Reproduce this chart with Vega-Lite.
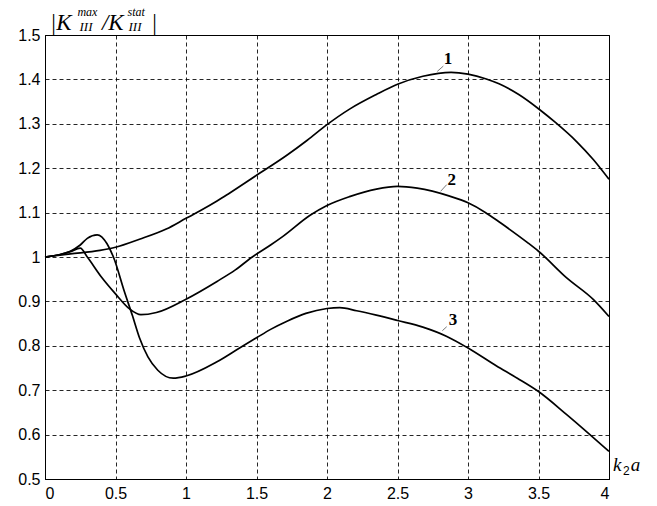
{
  "$schema": "https://vega.github.io/schema/vega-lite/v6.json",
  "width": 564,
  "height": 444,
  "autosize": {"type": "none"},
  "padding": {"left": 45, "top": 35, "right": 48, "bottom": 27},
  "background": "white",
  "config": {
    "view": {"stroke": "#000", "strokeWidth": 1},
    "axis": {
      "domainColor": "#000", "domainWidth": 1,
      "gridColor": "#000", "gridDash": [4, 3], "gridWidth": 1, "gridOpacity": 0.85,
      "ticks": false,
      "labelFont": "Liberation Sans", "labelFontSize": 16, "labelColor": "#000",
      "title": null
    }
  },
  "datasets": {
    "curves": [
      {"c": "1", "x": 0, "y": 1.0}, {"c": "1", "x": 0.18, "y": 1.007}, {"c": "1", "x": 0.39, "y": 1.015}, {"c": "1", "x": 0.5, "y": 1.022},
      {"c": "1", "x": 0.67, "y": 1.04}, {"c": "1", "x": 0.86, "y": 1.063}, {"c": "1", "x": 1.0, "y": 1.087}, {"c": "1", "x": 1.1, "y": 1.104},
      {"c": "1", "x": 1.22, "y": 1.126}, {"c": "1", "x": 1.3, "y": 1.142}, {"c": "1", "x": 1.5, "y": 1.184}, {"c": "1", "x": 1.71, "y": 1.228},
      {"c": "1", "x": 1.86, "y": 1.263}, {"c": "1", "x": 2.0, "y": 1.298}, {"c": "1", "x": 2.16, "y": 1.333}, {"c": "1", "x": 2.35, "y": 1.366},
      {"c": "1", "x": 2.5, "y": 1.389}, {"c": "1", "x": 2.68, "y": 1.407}, {"c": "1", "x": 2.88, "y": 1.416}, {"c": "1", "x": 3.0, "y": 1.412},
      {"c": "1", "x": 3.13, "y": 1.401}, {"c": "1", "x": 3.22, "y": 1.39}, {"c": "1", "x": 3.36, "y": 1.366}, {"c": "1", "x": 3.5, "y": 1.334},
      {"c": "1", "x": 3.62, "y": 1.303}, {"c": "1", "x": 3.77, "y": 1.26}, {"c": "1", "x": 3.89, "y": 1.219}, {"c": "1", "x": 4.0, "y": 1.175},

      {"c": "2", "x": 0, "y": 1.0}, {"c": "2", "x": 0.1, "y": 1.005}, {"c": "2", "x": 0.18, "y": 1.012}, {"c": "2", "x": 0.25, "y": 1.02},
      {"c": "2", "x": 0.3, "y": 1.0}, {"c": "2", "x": 0.4, "y": 0.955}, {"c": "2", "x": 0.5, "y": 0.917}, {"c": "2", "x": 0.6, "y": 0.883}, {"c": "2", "x": 0.68, "y": 0.87},
      {"c": "2", "x": 0.79, "y": 0.875}, {"c": "2", "x": 1.0, "y": 0.905}, {"c": "2", "x": 1.22, "y": 0.945}, {"c": "2", "x": 1.35, "y": 0.971},
      {"c": "2", "x": 1.47, "y": 1.0}, {"c": "2", "x": 1.6, "y": 1.027}, {"c": "2", "x": 1.69, "y": 1.047}, {"c": "2", "x": 1.88, "y": 1.094},
      {"c": "2", "x": 2.0, "y": 1.116}, {"c": "2", "x": 2.16, "y": 1.136}, {"c": "2", "x": 2.35, "y": 1.153}, {"c": "2", "x": 2.5, "y": 1.159},
      {"c": "2", "x": 2.64, "y": 1.155}, {"c": "2", "x": 2.87, "y": 1.137}, {"c": "2", "x": 3.0, "y": 1.122}, {"c": "2", "x": 3.12, "y": 1.101},
      {"c": "2", "x": 3.23, "y": 1.077}, {"c": "2", "x": 3.42, "y": 1.033}, {"c": "2", "x": 3.5, "y": 1.013}, {"c": "2", "x": 3.7, "y": 0.953},
      {"c": "2", "x": 3.89, "y": 0.904}, {"c": "2", "x": 4.0, "y": 0.866},

      {"c": "3", "x": 0, "y": 1.0}, {"c": "3", "x": 0.1, "y": 1.005}, {"c": "3", "x": 0.18, "y": 1.013}, {"c": "3", "x": 0.25, "y": 1.027},
      {"c": "3", "x": 0.3, "y": 1.042}, {"c": "3", "x": 0.37, "y": 1.05}, {"c": "3", "x": 0.44, "y": 1.03}, {"c": "3", "x": 0.49, "y": 0.996},
      {"c": "3", "x": 0.56, "y": 0.925}, {"c": "3", "x": 0.62, "y": 0.868}, {"c": "3", "x": 0.67, "y": 0.818}, {"c": "3", "x": 0.73, "y": 0.775},
      {"c": "3", "x": 0.8, "y": 0.745}, {"c": "3", "x": 0.91, "y": 0.727}, {"c": "3", "x": 1.0, "y": 0.732}, {"c": "3", "x": 1.22, "y": 0.764},
      {"c": "3", "x": 1.38, "y": 0.795}, {"c": "3", "x": 1.5, "y": 0.818}, {"c": "3", "x": 1.6, "y": 0.837}, {"c": "3", "x": 1.72, "y": 0.856},
      {"c": "3", "x": 1.85, "y": 0.873}, {"c": "3", "x": 2.0, "y": 0.884}, {"c": "3", "x": 2.09, "y": 0.886}, {"c": "3", "x": 2.21, "y": 0.879},
      {"c": "3", "x": 2.35, "y": 0.869}, {"c": "3", "x": 2.5, "y": 0.857}, {"c": "3", "x": 2.68, "y": 0.842}, {"c": "3", "x": 2.85, "y": 0.821},
      {"c": "3", "x": 3.0, "y": 0.795}, {"c": "3", "x": 3.2, "y": 0.755}, {"c": "3", "x": 3.35, "y": 0.727}, {"c": "3", "x": 3.5, "y": 0.697},
      {"c": "3", "x": 3.7, "y": 0.645}, {"c": "3", "x": 4.0, "y": 0.562}
    ],
    "leaders": [
      {"g": "1", "x": 2.782, "y": 1.418}, {"g": "1", "x": 2.825, "y": 1.43},
      {"g": "2", "x": 2.806, "y": 1.148}, {"g": "2", "x": 2.849, "y": 1.163},
      {"g": "3", "x": 2.818, "y": 0.834}, {"g": "3", "x": 2.849, "y": 0.843}
    ],
    "curveLabels": [
      {"t": "1", "x": 2.858, "y": 1.434},
      {"t": "2", "x": 2.884, "y": 1.163},
      {"t": "3", "x": 2.894, "y": 0.846}
    ],
    "bigTitle": [
      {"t": "|K", "x": 0.035, "y": 1.512},
      {"t": "/K", "x": 0.404, "y": 1.512},
      {"t": "|", "x": 0.752, "y": 1.512}
    ],
    "supTitle": [
      {"t": "max", "x": 0.23, "y": 1.542},
      {"t": "stat", "x": 0.585, "y": 1.542}
    ],
    "subTitle": [
      {"t": "III", "x": 0.245, "y": 1.508},
      {"t": "III", "x": 0.592, "y": 1.508}
    ],
    "xTitle": [
      {"t": "k", "x": 4.028, "y": 0.519},
      {"t": "a", "x": 4.155, "y": 0.519}
    ],
    "xTitleSub": [
      {"t": "2", "x": 4.1, "y": 0.509}
    ]
  },
  "layer": [
    {
      "data": {"name": "curves"},
      "mark": {"type": "line", "color": "#000", "strokeWidth": 1.7, "interpolate": "monotone"},
      "encoding": {
        "x": {"field": "x", "type": "quantitative",
              "scale": {"domain": [0, 4], "nice": false, "zero": false},
              "axis": {"values": [0, 0.5, 1, 1.5, 2, 2.5, 3, 3.5, 4], "format": "~g", "labelPadding": 6, "grid": true}},
        "y": {"field": "y", "type": "quantitative",
              "scale": {"domain": [0.5, 1.5], "nice": false, "zero": false},
              "axis": {"values": [0.5, 0.6, 0.7, 0.8, 0.9, 1, 1.1, 1.2, 1.3, 1.4, 1.5], "format": "~g", "labelPadding": 5, "grid": true}},
        "detail": {"field": "c", "type": "nominal"}
      }
    },
    {
      "data": {"name": "leaders"},
      "mark": {"type": "line", "color": "#555", "strokeWidth": 0.8},
      "encoding": {
        "x": {"field": "x", "type": "quantitative"},
        "y": {"field": "y", "type": "quantitative"},
        "detail": {"field": "g", "type": "nominal"}
      }
    },
    {
      "data": {"name": "curveLabels"},
      "mark": {"type": "text", "font": "Liberation Serif", "fontSize": 17, "fontWeight": "bold", "align": "center", "baseline": "alphabetic", "color": "#000"},
      "encoding": {
        "x": {"field": "x", "type": "quantitative"},
        "y": {"field": "y", "type": "quantitative"},
        "text": {"field": "t"}
      }
    },
    {
      "data": {"name": "bigTitle"},
      "mark": {"type": "text", "font": "Liberation Serif", "fontSize": 23, "fontStyle": "italic", "align": "left", "baseline": "alphabetic", "color": "#000"},
      "encoding": {
        "x": {"field": "x", "type": "quantitative"},
        "y": {"field": "y", "type": "quantitative"},
        "text": {"field": "t"}
      }
    },
    {
      "data": {"name": "supTitle"},
      "mark": {"type": "text", "font": "Liberation Serif", "fontSize": 12, "fontStyle": "italic", "align": "left", "baseline": "alphabetic", "color": "#000"},
      "encoding": {
        "x": {"field": "x", "type": "quantitative"},
        "y": {"field": "y", "type": "quantitative"},
        "text": {"field": "t"}
      }
    },
    {
      "data": {"name": "subTitle"},
      "mark": {"type": "text", "font": "Liberation Serif", "fontSize": 13, "fontStyle": "italic", "align": "left", "baseline": "alphabetic", "color": "#000"},
      "encoding": {
        "x": {"field": "x", "type": "quantitative"},
        "y": {"field": "y", "type": "quantitative"},
        "text": {"field": "t"}
      }
    },
    {
      "data": {"name": "xTitle"},
      "mark": {"type": "text", "font": "Liberation Serif", "fontSize": 19, "fontStyle": "italic", "align": "left", "baseline": "alphabetic", "color": "#000"},
      "encoding": {
        "x": {"field": "x", "type": "quantitative"},
        "y": {"field": "y", "type": "quantitative"},
        "text": {"field": "t"}
      }
    },
    {
      "data": {"name": "xTitleSub"},
      "mark": {"type": "text", "font": "Liberation Sans", "fontSize": 12, "align": "left", "baseline": "alphabetic", "color": "#000"},
      "encoding": {
        "x": {"field": "x", "type": "quantitative"},
        "y": {"field": "y", "type": "quantitative"},
        "text": {"field": "t"}
      }
    }
  ]
}
